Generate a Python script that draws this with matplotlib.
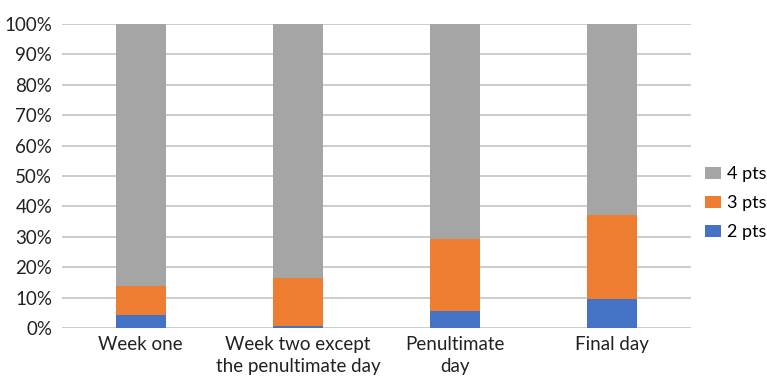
import matplotlib.pyplot as plt
import numpy as np

# share of points per category
categories = ['Week one', 'Week two except\nthe penultimate day', 'Penultimate\nday', 'Final day']
pts2 = [4.3, 0.7, 5.6, 9.5]
pts3 = [9.6, 15.8, 23.6, 27.8]
pts4 = [86.1, 83.5, 70.8, 62.7]

plt.rcParams['font.family'] = ['Lato', 'DejaVu Sans']

fig = plt.figure(figsize=(7.67, 3.79), dpi=100)
ax = fig.add_axes([0.0808, 0.1346, 0.8202, 0.8021])

x = np.arange(len(categories))
w = 0.318
b2 = ax.bar(x, pts2, w, color='#4472C4', label='2 pts', zorder=3)
b3 = ax.bar(x, pts3, w, bottom=pts2, color='#ED7D31', label='3 pts', zorder=3)
bottom4 = np.array(pts2) + np.array(pts3)
b4 = ax.bar(x, pts4, w, bottom=bottom4, color='#A5A5A5', label='4 pts', zorder=3)

ax.set_xlim(-0.5, 3.5)
ax.set_ylim(0, 100)
ax.set_yticks(range(0, 101, 10))
ax.set_yticklabels(['%d%%' % v for v in range(0, 101, 10)])
ax.set_xticks(x)
ax.set_xticklabels(categories, linespacing=1.3)
ax.tick_params(length=0, labelsize=13.5, colors='#222222')
ax.tick_params(axis='y', pad=7)
ax.tick_params(axis='x', pad=6)
ax.grid(axis='y', color='#C4C4C4', linewidth=1.2, zorder=0)
for s in ax.spines.values():
    s.set_visible(False)

ax.legend(handles=[b4, b3, b2], loc='center left', bbox_to_anchor=(0.919, 0.464),
          bbox_transform=fig.transFigure, borderaxespad=0, borderpad=0,
          frameon=False, fontsize=13, handlelength=0.9, handleheight=0.7,
          handletextpad=0.3, labelspacing=0.72)

fig.savefig('out.png', dpi=100)
